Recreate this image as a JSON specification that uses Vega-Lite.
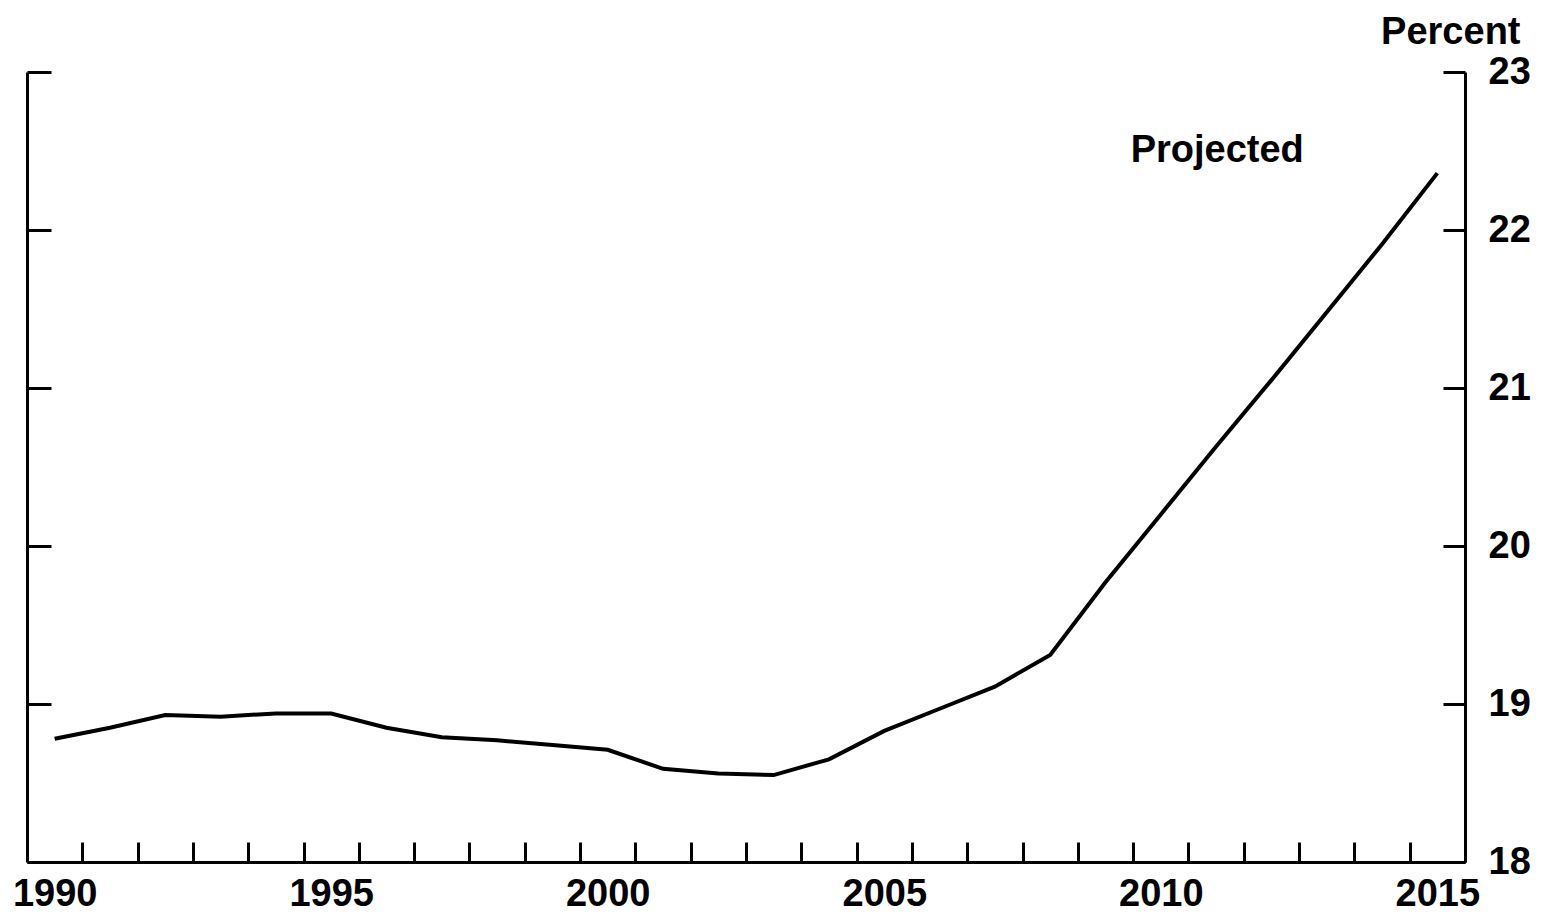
{
  "$schema": "https://vega.github.io/schema/vega-lite/v6.json",
  "autosize": "none",
  "width": 1438,
  "height": 790,
  "padding": {"left": 27, "top": 72, "right": 80, "bottom": 56},
  "background": "white",
  "config": {
    "view": {"stroke": null},
    "font": "Liberation Sans",
    "axis": {
      "domainColor": "black",
      "domainWidth": 3,
      "tickColor": "black",
      "tickWidth": 3,
      "grid": false,
      "labelFont": "Liberation Sans",
      "labelFontSize": 38,
      "labelFontWeight": "bold",
      "labelColor": "black"
    }
  },
  "datasets": {
    "series": [
      {"year": 1990, "value": 18.78},
      {"year": 1991, "value": 18.85},
      {"year": 1992, "value": 18.93},
      {"year": 1993, "value": 18.92},
      {"year": 1994, "value": 18.94},
      {"year": 1995, "value": 18.94},
      {"year": 1996, "value": 18.85},
      {"year": 1997, "value": 18.79},
      {"year": 1998, "value": 18.77},
      {"year": 1999, "value": 18.74},
      {"year": 2000, "value": 18.71},
      {"year": 2001, "value": 18.59},
      {"year": 2002, "value": 18.56},
      {"year": 2003, "value": 18.55},
      {"year": 2004, "value": 18.65},
      {"year": 2005, "value": 18.83},
      {"year": 2006, "value": 18.97},
      {"year": 2007, "value": 19.11},
      {"year": 2008, "value": 19.31},
      {"year": 2009, "value": 19.77},
      {"year": 2010, "value": 20.2},
      {"year": 2011, "value": 20.63},
      {"year": 2012, "value": 21.05},
      {"year": 2013, "value": 21.48},
      {"year": 2014, "value": 21.91},
      {"year": 2015, "value": 22.36}
    ],
    "notes": [
      {"year": 2011.02, "value": 22.5, "label": "Projected"}
    ]
  },
  "layer": [
    {
      "data": {"name": "series"},
      "mark": {"type": "line", "color": "black", "strokeWidth": 4, "strokeJoin": "miter"},
      "encoding": {
        "x": {
          "field": "year",
          "type": "quantitative",
          "scale": {"domain": [1989.5, 2015.5], "nice": false, "zero": false},
          "axis": {
            "orient": "bottom",
            "title": null,
            "values": [1990.5, 1991.5, 1992.5, 1993.5, 1994.5, 1995.5, 1996.5, 1997.5, 1998.5, 1999.5, 2000.5, 2001.5, 2002.5, 2003.5, 2004.5, 2005.5, 2006.5, 2007.5, 2008.5, 2009.5, 2010.5, 2011.5, 2012.5, 2013.5, 2014.5, 2015.5],
            "labelExpr": "(datum.value - 0.5) % 5 == 0 ? toString(datum.value - 0.5) : ''",
            "labelOffset": -27.65,
            "tickSize": -20,
            "labelPadding": 33,
            "labelOverlap": false,
            "labelFlush": false,
            "labelBound": false,
            "labelBaseline": "top"
          }
        },
        "y": {
          "field": "value",
          "type": "quantitative",
          "scale": {"domain": [18, 23], "nice": false, "zero": false},
          "axis": {
            "orient": "left",
            "title": null,
            "values": [18, 19, 20, 21, 22, 23],
            "labels": false,
            "tickSize": -24
          }
        }
      }
    },
    {
      "data": {"name": "notes"},
      "mark": {"type": "text", "font": "Liberation Sans", "fontSize": 38, "fontWeight": "bold", "align": "center", "baseline": "middle", "color": "black"},
      "encoding": {
        "x": {"field": "year", "type": "quantitative"},
        "y": {
          "field": "value",
          "type": "quantitative",
          "axis": {
            "orient": "right",
            "title": "Percent",
            "titleAngle": 0,
            "titleAlign": "right",
            "titleBaseline": "alphabetic",
            "titleX": 55,
            "titleY": -29,
            "titleFont": "Liberation Sans",
            "titleFontSize": 38,
            "titleFontWeight": "bold",
            "titleColor": "black",
            "values": [18, 19, 20, 21, 22, 23],
            "tickSize": -22,
            "labelPadding": 45,
            "labelAlign": "left",
            "labelBaseline": "middle"
          }
        },
        "text": {"field": "label"}
      }
    }
  ],
  "resolve": {"axis": {"y": "independent"}}
}
